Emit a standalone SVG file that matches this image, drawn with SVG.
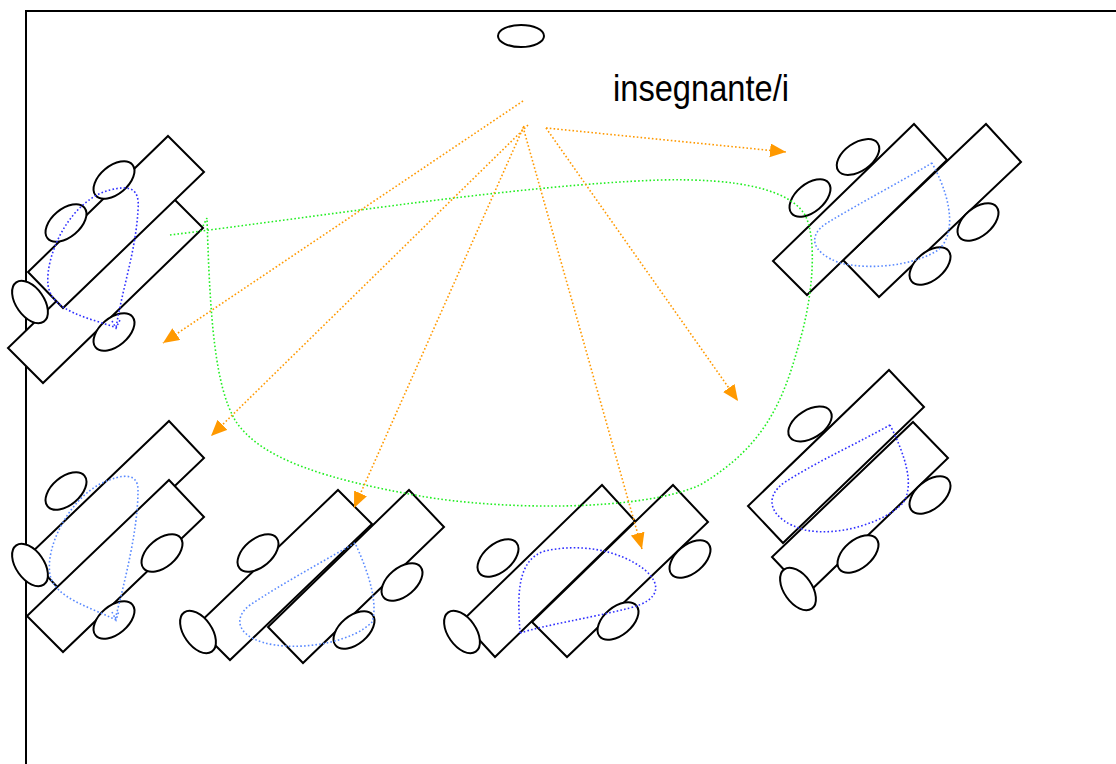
<svg xmlns="http://www.w3.org/2000/svg" width="1116" height="764" viewBox="0 0 1116 764">
  <style>
    .desk { fill: #ffffff; stroke: #000000; stroke-width: 2; stroke-linejoin: miter; }
    .seat { fill: #ffffff; stroke: #000000; stroke-width: 2; }
    .wall { fill: none; stroke: #000000; stroke-width: 2; }
    .flow-dark { fill: none; stroke: #2f2fff; stroke-width: 1.6; stroke-dasharray: 1.6 2.2; }
    .flow-light { fill: none; stroke: #5a8aff; stroke-width: 1.6; stroke-dasharray: 1.6 2.2; }
    .round { fill: none; stroke: #22ee22; stroke-width: 1.6; stroke-dasharray: 1.6 2.2; }
    .look { fill: none; stroke: #ff9900; stroke-width: 1.6; stroke-dasharray: 1.6 2.2; marker-end: url(#tip); }
    .label { font-family: "Liberation Sans", Arial, sans-serif; font-size: 37px; fill: #000000; }
  </style>
  <defs>
    <marker id="tip" markerUnits="userSpaceOnUse" markerWidth="17" markerHeight="15" refX="16" refY="7" orient="auto">
      <path d="M0,0 L16,7 L0,14 Z" fill="#ff9900"/>
    </marker>
  </defs>

  <rect x="0" y="0" width="1116" height="764" fill="#ffffff"/>

  <!-- classroom walls -->
  <path class="wall" d="M26,764 L26,11 L1116,11"/>

  <!-- teacher -->
  <g id="teacher">
    <ellipse class="seat" cx="521" cy="36" rx="23" ry="11"/>
    <text class="label" x="613" y="101" textLength="176" lengthAdjust="spacingAndGlyphs">insegnante/i</text>
  </g>

  <!-- desk island, top left -->
  <g id="group-top-left">
    <polygon class="desk" points="168,193 203,228 43,383 8,348"/>
    <polygon class="desk" points="168,136 204,172 63,308 28,272"/>
    <ellipse class="seat" cx="114" cy="180" rx="24" ry="14" transform="rotate(-40 114 180)"/>
    <ellipse class="seat" cx="66" cy="223" rx="24" ry="14" transform="rotate(-40 66 223)"/>
    <ellipse class="seat" cx="30" cy="302" rx="24" ry="14" transform="rotate(55 30 302)"/>
    <ellipse class="seat" cx="114" cy="332" rx="24" ry="14" transform="rotate(-40 114 332)"/>
    <path class="flow-dark" d="M117,328 C90,318 52,312 48,285 C45,255 70,200 110,190 C130,185 140,188 138,210 C136,250 122,290 116,328 M112,321 L116,328 L120,320"/>
  </g>

  <!-- desk island, top right -->
  <g id="group-top-right">
    <polygon class="desk" points="986,124 1021,162 879,297 843,260"/>
    <polygon class="desk" points="914,124 947,160 807,295 773,261"/>
    <ellipse class="seat" cx="858" cy="157" rx="24" ry="14" transform="rotate(-35 858 157)"/>
    <ellipse class="seat" cx="810" cy="198" rx="24" ry="14" transform="rotate(-40 810 198)"/>
    <ellipse class="seat" cx="978" cy="222" rx="24" ry="14" transform="rotate(-40 978 222)"/>
    <ellipse class="seat" cx="930" cy="266" rx="24" ry="14" transform="rotate(-40 930 266)"/>
    <path class="flow-light" d="M932,163 C900,182 860,203 827,223 C808,235 810,252 840,263 C870,270 910,266 935,252 C955,240 955,205 932,163"/>
  </g>

  <!-- desk island, bottom left -->
  <g id="group-bottom-left">
    <polygon class="desk" points="169,421 204,458 63,593 28,556"/>
    <polygon class="desk" points="169,480 204,517 63,652 27,616"/>
    <ellipse class="seat" cx="66" cy="491" rx="24" ry="14" transform="rotate(-40 66 491)"/>
    <ellipse class="seat" cx="30" cy="565" rx="24" ry="14" transform="rotate(55 30 565)"/>
    <ellipse class="seat" cx="162" cy="553" rx="24" ry="14" transform="rotate(-40 162 553)"/>
    <ellipse class="seat" cx="114" cy="620" rx="24" ry="14" transform="rotate(-40 114 620)"/>
    <path class="flow-light" d="M116,620 C90,607 55,598 50,575 C45,545 70,500 100,484 C125,472 138,474 138,490 C138,530 125,580 115,620 M112,612 L116,620 L119,611"/>
  </g>

  <!-- desk island, bottom centre left -->
  <g id="group-bottom-centre-left">
    <polygon class="desk" points="409,490 444,527 303,663 268,627"/>
    <polygon class="desk" points="338,490 372,524 230,660 196,626"/>
    <ellipse class="seat" cx="258" cy="553" rx="24" ry="14" transform="rotate(-40 258 553)"/>
    <ellipse class="seat" cx="198" cy="632" rx="24" ry="14" transform="rotate(55 198 632)"/>
    <ellipse class="seat" cx="402" cy="582" rx="24" ry="14" transform="rotate(-40 402 582)"/>
    <ellipse class="seat" cx="354" cy="630" rx="24" ry="14" transform="rotate(-40 354 630)"/>
    <path class="flow-light" d="M355,543 C320,563 280,585 250,605 C230,620 240,640 275,645 C310,650 355,640 372,622 C378,605 370,575 355,543"/>
  </g>

  <!-- desk island, bottom centre right -->
  <g id="group-bottom-centre-right">
    <polygon class="desk" points="673,485 708,522 567,657 532,622"/>
    <polygon class="desk" points="602,485 635,521 495,657 462,621"/>
    <ellipse class="seat" cx="498" cy="558" rx="24" ry="14" transform="rotate(-40 498 558)"/>
    <ellipse class="seat" cx="462" cy="632" rx="24" ry="14" transform="rotate(55 462 632)"/>
    <ellipse class="seat" cx="690" cy="559" rx="24" ry="14" transform="rotate(-40 690 559)"/>
    <ellipse class="seat" cx="618" cy="621" rx="24" ry="14" transform="rotate(-40 618 621)"/>
    <path class="flow-dark" d="M520,633 C518,600 515,560 545,551 C580,543 620,550 645,570 C662,585 660,600 630,608 C590,618 545,625 520,633"/>
  </g>

  <!-- desk island, middle right -->
  <g id="group-middle-right">
    <polygon class="desk" points="913,422 948,458 807,594 772,557"/>
    <polygon class="desk" points="889,370 924,407 783,543 748,506"/>
    <ellipse class="seat" cx="810" cy="424" rx="24" ry="14" transform="rotate(-32 810 424)"/>
    <ellipse class="seat" cx="858" cy="554" rx="24" ry="14" transform="rotate(-40 858 554)"/>
    <ellipse class="seat" cx="930" cy="495" rx="24" ry="14" transform="rotate(-40 930 495)"/>
    <ellipse class="seat" cx="798" cy="589" rx="24" ry="14" transform="rotate(55 798 589)"/>
    <path class="flow-dark" d="M890,425 C860,442 820,460 785,482 C762,498 770,520 805,530 C840,537 885,522 903,503 C915,485 905,455 890,425"/>
  </g>

  <!-- connectors: round of the classroom and the teacher's lines of sight -->
  <g id="connectors">
    <path class="round" d="M170,235 C330,215 520,185 660,180 C740,178 790,190 805,215 C818,240 812,300 800,340 C785,395 768,445 700,485 C640,512 500,510 420,496 C330,480 260,460 235,420 C215,385 210,320 207,218 L203,226"/>
    <line class="look" x1="546" y1="128" x2="786" y2="152"/>
    <line class="look" x1="523" y1="101" x2="163" y2="343"/>
    <line class="look" x1="528" y1="125" x2="211" y2="436"/>
    <line class="look" x1="524" y1="126" x2="354" y2="508"/>
    <line class="look" x1="523" y1="127" x2="642" y2="549"/>
    <line class="look" x1="546" y1="128" x2="738" y2="401"/>
  </g>
</svg>
